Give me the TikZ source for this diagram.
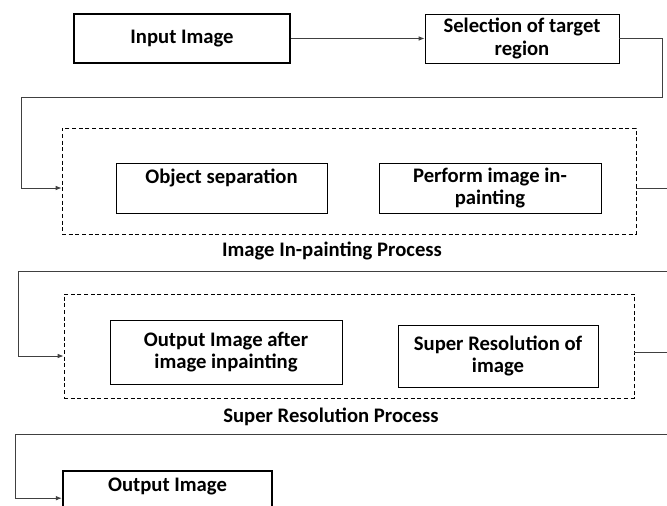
\documentclass[tikz,border=0pt]{standalone}
\usepackage{fontspec}
\setmainfont{Carlito}
\usepackage{tikz}
\usetikzlibrary{positioning}
\usetikzlibrary{arrows.meta}

\begin{document}
\begin{tikzpicture}[x=0.75pt,y=-0.75pt,
  every node/.style={font=\fontsize{15.5}{17}\selectfont\bfseries,inner sep=2pt},
  stepbox/.style={draw,line width=0.6pt,align=center},
  mainbox/.style={draw,line width=1.8pt,align=center},
  groupbox/.style={draw,line width=0.6pt,dash pattern=on 3pt off 2pt},
  conn/.style={draw=black!75,line width=0.65pt},
  >={Latex[length=4.5pt,width=3.5pt]}]
  \useasboundingbox (0,0) rectangle (667,506);
  \clip (0,0) rectangle (667,506);
  %top row
  \node[mainbox,minimum width=162pt,minimum height=36.75pt] (input) at (182,38.5) {Input Image};
  \node[stepbox,minimum width=145.5pt,minimum height=36.75pt] (select) at (522,38.5) {Selection of target\\region};
  \draw[conn,->] (input) -- (select);
  %in-painting
  \node[groupbox,minimum width=430.5pt,minimum height=79.5pt] (inpaint) at (349,181) {};
  \node[stepbox,minimum width=158.25pt,minimum height=37.5pt] (objsep) at (221.5,188) {Object separation\\\mbox{}};
  \node[stepbox,minimum width=166.5pt,minimum height=37.5pt] (perform) at (490,188) {Perform image in-\\painting};
  \node[below=4pt] (inpaintlbl) at (332,234) {Image In-painting Process};
  %super resolution
  \node[groupbox,minimum width=427.5pt,minimum height=78pt] (superres) at (349,346) {};
  \node[stepbox,minimum width=174pt,minimum height=48pt] (outafter) at (226,352) {Output Image after\\image inpainting};
  \node[stepbox,minimum width=150pt,minimum height=46.5pt] (srimg) at (498,356) {Super Resolution of\\image};
  \node[below=5pt] (superreslbl) at (331,398) {Super Resolution Process};
  %output
  \node[mainbox,minimum width=156.75pt,minimum height=40.5pt,anchor=north] (output) at (167.5,470) {};
  \node (outputlbl) at ([yshift=-12pt]output.north) {Output Image};
  %loops
  \coordinate (r1) at (662,97);
  \coordinate (l1) at (21,97);
  \draw[conn,->] (select.east) -| (r1) -- (l1) |- (objsep.center -| inpaint.west);
  \coordinate (r2) at (690,271);
  \coordinate (l2) at (18,271);
  \draw[conn,->] (perform.center -| inpaint.east) -| (r2) -- (l2) |- (srimg.center -| superres.west);
  \coordinate (r3) at (690,434);
  \coordinate (l3) at (15,434);
  \draw[conn,->] (outafter.center -| superres.east) -| (r3) -- (l3) |- (output.west);
\end{tikzpicture}
\end{document}
